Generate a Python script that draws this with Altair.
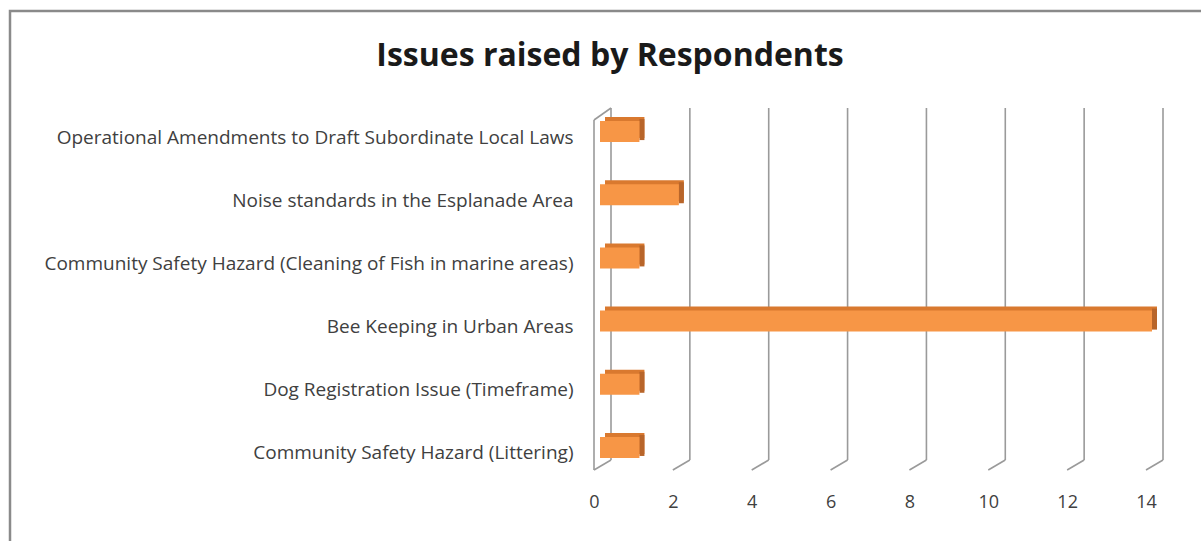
import altair as alt
import pandas as pd

categories = [
    "Operational Amendments to Draft Subordinate Local Laws",
    "Noise standards in the Esplanade Area",
    "Community Safety Hazard (Cleaning of Fish in marine areas)",
    "Bee Keeping in Urban Areas",
    "Dog Registration Issue (Timeframe)",
    "Community Safety Hazard (Littering)",
]
counts = [1, 2, 1, 14, 1, 1]
tick_values = [0, 2, 4, 6, 8, 10, 12, 14]
title_text = ["Issues raised by Respondents"]

df = pd.DataFrame({"issue": categories, "count": counts})
ticks_df = pd.DataFrame({"tick": tick_values})
title_df = pd.DataFrame({"t": title_text})

FONT = "Open Sans"
W, H = 552, 379
L, T = 594, 100
DEPTH_X = 17
GRID = "#9a9a9a"

xscale = alt.Scale(domain=[0, 14], nice=False, zero=True)
yscale = alt.Scale(domain=categories, paddingInner=0.667, paddingOuter=0.333)

xaxis = alt.Axis(values=tick_values, grid=False, domain=False, ticks=False,
                 labelPadding=14, labelFontSize=18, labelColor="#404040",
                 labelFont=FONT, title=None, labelFlush=False)
yaxis = alt.Axis(grid=False, domain=False, ticks=False, labelPadding=21,
                 labelFontSize=19, labelColor="#404040", labelFont=FONT,
                 labelOffset=6, labelLimit=700, title=None)

one = alt.Chart(ticks_df.head(1))
base_ticks = alt.Chart(ticks_df)

# chart border
border = one.mark_rect(
    filled=False, stroke="#8a8a8a", strokeWidth=2.5
).encode(
    x=alt.value(10 - L), x2=alt.value(1240 - L),
    y=alt.value(11 - T), y2=alt.value(600 - T),
)

title = alt.Chart(title_df).mark_text(
    font=FONT, fontSize=32, fontWeight="bold", color="#1a1a1a",
    align="center", baseline="middle"
).encode(
    text="t:N", x=alt.value(610 - L), y=alt.value(56 - T),
)

# back wall vertical gridlines
grid_back = base_ticks.mark_rule(color=GRID, strokeWidth=1.6, xOffset=DEPTH_X).encode(
    x=alt.X("tick:Q", scale=xscale, axis=xaxis),
    y=alt.value(8), y2=alt.value(360),
)
# floor diagonals
grid_diag = base_ticks.mark_rule(color=GRID, strokeWidth=1.6, x2Offset=DEPTH_X).encode(
    x=alt.X("tick:Q", scale=xscale), x2="tick:Q",
    y=alt.value(370), y2=alt.value(360),
)
# left wall front edge and top
wall_front = one.mark_rule(color=GRID, strokeWidth=1.6).encode(
    x=alt.X(datum=0, scale=xscale), y=alt.value(20), y2=alt.value(370),
)
wall_top = one.mark_rule(color=GRID, strokeWidth=1.6, x2Offset=DEPTH_X).encode(
    x=alt.X(datum=0, scale=xscale), x2=alt.datum(0),
    y=alt.value(20), y2=alt.value(8),
)

bars_base = alt.Chart(df)
bar_back = bars_base.mark_bar(color="#d9792f", xOffset=11, x2Offset=11, yOffset=-4).encode(
    x=alt.X("count:Q", scale=xscale),
    y=alt.Y("issue:N", scale=yscale, sort=categories, axis=yaxis),
)
bar_side = bars_base.mark_rect(color="#b8652a", xOffset=6, x2Offset=11, yOffset=-2).encode(
    x=alt.X("count:Q", scale=xscale), x2="count:Q",
    y=alt.Y("issue:N", scale=yscale, sort=categories),
)
bar_front = bars_base.mark_bar(color="#f79646", xOffset=6, x2Offset=6).encode(
    x=alt.X("count:Q", scale=xscale),
    y=alt.Y("issue:N", scale=yscale, sort=categories),
)

chart = alt.layer(
    border, title, grid_back, grid_diag, wall_front, wall_top, bar_back, bar_side, bar_front
).properties(
    width=W, height=H,
    autosize="none",
    padding={"left": L, "top": T, "right": 1201 - L - W, "bottom": 541 - T - H},
).configure(background="white").configure_view(stroke=None, strokeWidth=0)

chart.save("out.html", embed_options={"renderer": "svg", "actions": False})
